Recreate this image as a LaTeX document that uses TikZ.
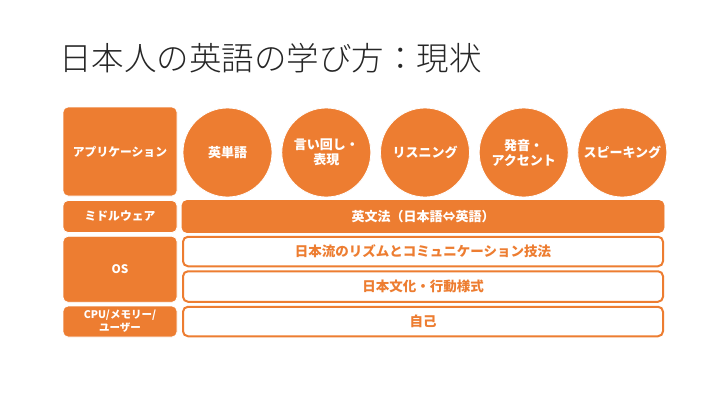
\documentclass[tikz,border=0pt]{standalone}
\usepackage{fontspec}
\setmainfont{Noto Sans CJK JP}
\IfFontExistsTF{Noto Sans CJK JP Light}{\newfontfamily\titlefont{Noto Sans CJK JP Light}}{\newfontfamily\titlefont{Noto Sans CJK JP}}
\definecolor{acc}{HTML}{ED7D31}
\begin{document}
\begin{tikzpicture}[x=1pt,y=-1pt,
  lbox/.style={draw=white,line width=0.8pt,fill=acc,rounded corners=5pt,text=white,font=\fontsize{11.8}{13.5}\selectfont\bfseries,align=center,inner sep=0pt},
  circ/.style={circle,draw=white,line width=0.8pt,fill=acc,minimum size=89pt,inner sep=0pt,text=white,font=\fontsize{13}{15}\selectfont\bfseries,align=center},
  fbar/.style={draw=acc,line width=0.8pt,fill=acc,rounded corners=5pt,text=white,font=\fontsize{13}{15}\selectfont\bfseries,inner sep=0pt},
  obar/.style={draw=acc,line width=2pt,fill=white,rounded corners=5pt,text=acc,font=\fontsize{13.5}{15}\selectfont\bfseries,inner sep=0pt}]
\useasboundingbox[fill=white] (0,0) rectangle (720,405);
\node[anchor=west,font=\titlefont\fontsize{32.5}{36}\selectfont,text=black!85,inner sep=0pt] (title) at (59,58) {日本人の英語の学び方：現状};
% left column
\node[lbox,minimum width=114pt,minimum height=89pt] (app) at (120,151.5) {アプリケーション};
\node[lbox,minimum width=114pt,minimum height=32pt] (mid) at (120,216.5) {ミドルウェア};
\node[lbox,minimum width=114pt,minimum height=66pt] (os) at (120,269.3) {OS};
\node[lbox,minimum width=114pt,minimum height=31pt,font=\fontsize{10.5}{13}\selectfont\bfseries] (cpu) at (120,321.5) {CPU/メモリー/\\ユーザー};
% circles
\node[circ] (c1) at (227.5,152.5) {英単語};
\node[circ] (c2) at (326.3,152.5) {言い回し・\\表現};
\node[circ] (c3) at (425,152.5) {リスニング};
\node[circ] (c4) at (523.7,152.5) {発音・\\アクセント};
\node[circ] (c5) at (622.3,152.5) {スピーキング};
% bars
\node[fbar,minimum width=482pt,minimum height=32pt] (gram) at (423,216.5) {英文法（日本語⇔英語）};
\node[obar,minimum width=480pt,minimum height=29.5pt] (ryu) at (423,251.5) {日本流のリズムとコミュニケーション技法};
\node[obar,minimum width=480pt,minimum height=30.5pt] (bunka) at (423,286.5) {日本文化・行動様式};
\node[obar,minimum width=480pt,minimum height=29.5pt] (jiko) at (423,321.5) {自己};
\end{tikzpicture}
\end{document}
